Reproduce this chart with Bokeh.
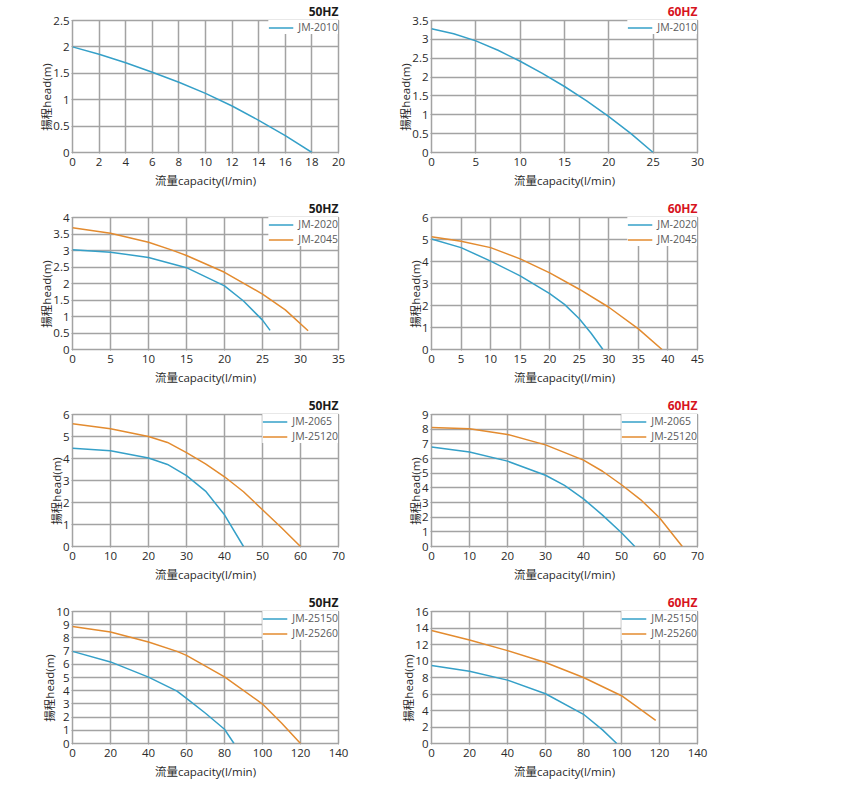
from bokeh.plotting import figure
from bokeh.layouts import column, row
from bokeh.models import FixedTicker, PrintfTickFormatter
from bokeh.embed import file_html
from bokeh.resources import INLINE

# ---------------- data ----------------
# Row 1: JM-2010
q50_2010 = [0, 2, 4, 6, 8, 10, 12, 14, 16, 18]
h50_2010 = [2.0, 1.86, 1.70, 1.52, 1.33, 1.12, 0.88, 0.61, 0.32, 0.0]
q60_2010 = [0, 2.5, 5, 7.5, 10, 12.5, 15, 17.5, 20, 22.5, 25]
h60_2010 = [3.28, 3.15, 2.96, 2.71, 2.42, 2.10, 1.75, 1.37, 0.95, 0.50, 0.0]

# Row 2: JM-2020 / JM-2045
q50_2020 = [0, 5, 10, 15, 20, 22.5, 25, 26]
h50_2020 = [3.02, 2.95, 2.79, 2.48, 1.93, 1.47, 0.89, 0.58]
q50_2045 = [0, 5, 10, 13, 15, 20, 25, 28, 31]
h50_2045 = [3.69, 3.52, 3.25, 3.02, 2.85, 2.34, 1.68, 1.20, 0.57]
q60_2020 = [0, 5, 10, 15, 20, 22.5, 25, 27, 29]
h60_2020 = [5.02, 4.63, 4.02, 3.35, 2.54, 2.05, 1.40, 0.74, 0.0]
q60_2045 = [0, 5, 10, 15, 20, 25, 30, 35, 39]
h60_2045 = [5.12, 4.92, 4.63, 4.12, 3.48, 2.74, 1.92, 0.94, 0.0]

# Row 3: JM-2065 / JM-25120
q50_2065 = [0, 10, 20, 25, 30, 35, 40, 45]
h50_2065 = [4.47, 4.35, 4.02, 3.73, 3.22, 2.52, 1.44, 0.0]
q50_25120 = [0, 10, 20, 25, 30, 35, 40, 45, 50, 55, 60]
h50_25120 = [5.58, 5.35, 5.0, 4.73, 4.27, 3.76, 3.17, 2.49, 1.67, 0.85, 0.0]
q60_2065 = [0, 10, 20, 30, 35, 40, 45, 50, 53.5]
h60_2065 = [6.79, 6.45, 5.82, 4.86, 4.17, 3.25, 2.14, 0.94, 0.0]
q60_25120 = [0, 10, 20, 30, 40, 45, 50, 55, 60, 66]
h60_25120 = [8.12, 8.03, 7.64, 6.93, 5.89, 5.13, 4.21, 3.20, 1.96, 0.0]

# Row 4: JM-25150 / JM-25260
q50_25150 = [0, 20, 40, 55, 60, 70, 80, 85]
h50_25150 = [6.98, 6.18, 5.03, 3.97, 3.42, 2.29, 1.08, 0.0]
q50_25260 = [0, 20, 40, 55, 60, 80, 100, 110, 120]
h50_25260 = [8.87, 8.44, 7.69, 6.98, 6.68, 5.05, 2.99, 1.56, 0.0]
q60_25150 = [0, 20, 40, 60, 80, 90, 97.5]
h60_25150 = [9.45, 8.76, 7.68, 6.03, 3.54, 1.65, 0.0]
q60_25260 = [0, 20, 40, 60, 80, 100, 118]
h60_25260 = [13.7, 12.54, 11.26, 9.81, 8.0, 5.79, 2.81]

# axis ticks
x_ticks = {
    "r1l": [0, 2, 4, 6, 8, 10, 12, 14, 16, 18, 20],
    "r1r": [0, 5, 10, 15, 20, 25, 30],
    "r2l": [0, 5, 10, 15, 20, 25, 30, 35],
    "r2r": [0, 5, 10, 15, 20, 25, 30, 35, 40, 45],
    "r3l": [0, 10, 20, 30, 40, 50, 60, 70],
    "r3r": [0, 10, 20, 30, 40, 50, 60, 70],
    "r4l": [0, 20, 40, 60, 80, 100, 120, 140],
    "r4r": [0, 20, 40, 60, 80, 100, 120, 140],
}
y_ticks = {
    "r1l": [0, 0.5, 1, 1.5, 2, 2.5],
    "r1r": [0, 0.5, 1, 1.5, 2, 2.5, 3, 3.5],
    "r2l": [0, 0.5, 1, 1.5, 2, 2.5, 3, 3.5, 4],
    "r2r": [0, 1, 2, 3, 4, 5, 6],
    "r3l": [0, 1, 2, 3, 4, 5, 6],
    "r3r": [0, 1, 2, 3, 4, 5, 6, 7, 8, 9],
    "r4l": [0, 1, 2, 3, 4, 5, 6, 7, 8, 9, 10],
    "r4r": [0, 2, 4, 6, 8, 10, 12, 14, 16],
}

X_LABEL = "流量capacity(l/min)"
Y_LABEL = "揚程head(m)"

BLUE = "#35a0c8"
ORANGE = "#e38b2f"
GRID = "#a3a3a3"
FONT = "'Open Sans', 'Noto Sans CJK TC', sans-serif"


def panel(key, title, title_color, series, left_border, right_border, height, top_border, bottom_border):
    xt = x_ticks[key]
    yt = y_ticks[key]
    frame_w = 266
    p = figure(width=left_border + frame_w + right_border, height=height,
               x_range=(xt[0], xt[-1]), y_range=(yt[0], yt[-1]),
               output_backend="svg", toolbar_location=None, tools="",
               min_border_left=left_border, min_border_right=right_border,
               min_border_top=top_border, min_border_bottom=bottom_border)
    p.title.text = title
    p.title.align = "right"
    p.title.text_font = FONT
    p.title.text_font_size = "12px"
    p.title.text_font_style = "bold"
    p.title.text_color = title_color
    p.title.standoff = 1
    p.title.offset = 0

    for q, h, c, name in series:
        p.line(q, h, line_color=c, line_width=1.5, legend_label=name)

    p.xaxis.ticker = FixedTicker(ticks=xt)
    p.yaxis.ticker = FixedTicker(ticks=yt)
    p.xaxis.formatter = PrintfTickFormatter(format="%g")
    p.yaxis.formatter = PrintfTickFormatter(format="%g")
    p.xaxis.axis_label = X_LABEL
    # trailing no-break spaces push the visible label slightly below the frame centre
    p.yaxis.axis_label = Y_LABEL + "\u00a0" * 7
    for ax in (p.xaxis, p.yaxis):
        ax.axis_line_color = None
        ax.major_tick_line_color = GRID
        ax.major_tick_out = 1
        ax.major_tick_in = 0
        ax.minor_tick_line_color = None
        ax.major_label_text_font = FONT
        ax.major_label_text_font_size = "11.5px"
        ax.major_label_text_color = "#2a2a2a"
        ax.axis_label_text_font = FONT
        ax.axis_label_text_font_style = "normal"
        ax.axis_label_text_color = "#2a2a2a"
    p.xaxis.major_label_standoff = 4
    p.xaxis.axis_label_standoff = 4
    p.yaxis.major_label_standoff = 2
    p.yaxis.axis_label_standoff = -4
    p.xaxis.axis_label_text_font_size = "11.5px"
    p.yaxis.axis_label_text_font_size = "11.5px"

    p.grid.grid_line_color = GRID
    p.grid.grid_line_width = 1.5
    p.outline_line_color = GRID
    p.outline_line_width = 1.5
    p.background_fill_color = "white"

    lg = p.legend[0]
    lg.location = "top_right"
    lg.margin = 0
    lg.padding = 7
    lg.spacing = 1
    lg.label_height = 13
    lg.glyph_height = 13
    lg.glyph_width = 25
    lg.label_standoff = 5
    lg.label_text_font = FONT
    lg.label_text_font_size = "10.5px"
    lg.label_text_color = "#5a5a5a"
    lg.border_line_color = None
    lg.background_fill_alpha = 1.0
    return p


RED = "#d7141e"
BLACK = "#1a1a1a"
H = 197
HL = 192
LB_L, LB_R, RB = 72, 73, 20
TOP = 20

p1 = panel("r1l", "50HZ", BLACK, [(q50_2010, h50_2010, BLUE, "JM-2010")], LB_L, RB, H, TOP, 45)
p2 = panel("r1r", "60HZ", RED, [(q60_2010, h60_2010, BLUE, "JM-2010")], LB_R, RB, H, TOP, 45)
p3 = panel("r2l", "50HZ", BLACK, [(q50_2020, h50_2020, BLUE, "JM-2020"),
                                  (q50_2045, h50_2045, ORANGE, "JM-2045")], LB_L, RB, H, TOP, 45)
p4 = panel("r2r", "60HZ", RED, [(q60_2020, h60_2020, BLUE, "JM-2020"),
                                (q60_2045, h60_2045, ORANGE, "JM-2045")], LB_R, RB, H, TOP, 45)
p5 = panel("r3l", "50HZ", BLACK, [(q50_2065, h50_2065, BLUE, "JM-2065"),
                                  (q50_25120, h50_25120, ORANGE, "JM-25120")], LB_L, RB, H, TOP, 45)
p6 = panel("r3r", "60HZ", RED, [(q60_2065, h60_2065, BLUE, "JM-2065"),
                                (q60_25120, h60_25120, ORANGE, "JM-25120")], LB_R, RB, H, TOP, 45)
p7 = panel("r4l", "50HZ", BLACK, [(q50_25150, h50_25150, BLUE, "JM-25150"),
                                  (q50_25260, h50_25260, ORANGE, "JM-25260")], LB_L, RB, HL, TOP, 40)
p8 = panel("r4r", "60HZ", RED, [(q60_25150, h60_25150, BLUE, "JM-25150"),
                                (q60_25260, h60_25260, ORANGE, "JM-25260")], LB_R, RB, HL, TOP, 40)

layout = column(row(p1, p2), row(p3, p4), row(p5, p6), row(p7, p8))

open("out.html", "w").write(file_html(layout, INLINE))
